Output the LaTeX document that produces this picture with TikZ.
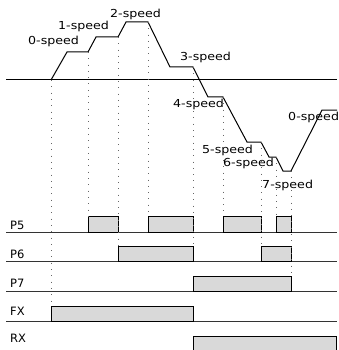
\documentclass[tikz,border=0pt]{standalone}
\usepackage{fontspec}
\setmainfont{DejaVu Sans}
\newfontfamily\spdfont[FakeStretch=1.15]{DejaVu Sans}
\usetikzlibrary{positioning}

\begin{document}
\begin{tikzpicture}[x=1pt, y=-1pt,
  spd/.style={anchor=base west, inner sep=0pt, font=\spdfont\fontsize{11}{11}\selectfont},
  sig/.style={anchor=base west, inner sep=0pt, font=\fontsize{11.5}{11.5}\selectfont},
  axisline/.style={line width=1pt},
  profile/.style={line width=1pt, line join=miter},
  baseline/.style={line width=1pt, draw=black!80},
  pulse/.style={draw, line width=1pt, fill=black!15},
  guide/.style={draw=black!60, line width=0.9pt, dash pattern=on 0.9pt off 5.4pt}
]
  \clip (0,0) rectangle (339,350);

  % speed profile corners
  \coordinate (s0) at (51,80);
  \coordinate (a0) at (67,52);   \coordinate (b0) at (88,52);
  \coordinate (a1) at (96,37);   \coordinate (b1) at (118,37);
  \coordinate (a2) at (126,22);  \coordinate (b2) at (148,22);
  \coordinate (a3) at (170,67);  \coordinate (b3) at (193,67);
  \coordinate (a4) at (208,97);  \coordinate (b4) at (223,97);
  \coordinate (a5) at (247,142); \coordinate (b5) at (261,142);
  \coordinate (a6) at (269,157); \coordinate (b6) at (276,157);
  \coordinate (a7) at (283,171); \coordinate (b7) at (291,171);
  \coordinate (a8) at (322,110); \coordinate (e8) at (337,110);

  % signal rows
  \coordinate (p5t) at (0,216); \coordinate (p5b) at (0,232);
  \coordinate (p6t) at (0,246); \coordinate (p6b) at (0,261);
  \coordinate (p7t) at (0,276); \coordinate (p7b) at (0,291);
  \coordinate (fxt) at (0,306); \coordinate (fxb) at (0,321);
  \coordinate (rxt) at (0,336); \coordinate (rxb) at (0,352);

  \draw[axisline] (6,80) -- (337,80);
  \draw[profile] (s0) -- (a0) -- (b0) -- (a1) -- (b1) -- (a2) -- (b2) -- (a3) -- (b3)
    -- (a4) -- (b4) -- (a5) -- (b5) -- (a6) -- (b6) -- (a7) -- (b7) -- (a8) -- (e8);

  \node[spd] (v0)  at (28,45)    {0-speed};
  \node[spd] (v1)  at (58,30)    {1-speed};
  \node[spd] (v2)  at (110,18)   {2-speed};
  \node[spd] (v3)  at (180,60.5) {3-speed};
  \node[spd] (v4)  at (173,107)  {4-speed};
  \node[spd] (v5)  at (202,153)  {5-speed};
  \node[spd] (v6)  at (223,166.5){6-speed};
  \node[spd] (v7)  at (262,188)  {7-speed};
  \node[spd] (v0b) at (288,121)  {0-speed};

  \draw[baseline] (6,232) -- (337,232);
  \draw[baseline] (6,261) -- (337,261);
  \draw[baseline] (6,291) -- (337,291);
  \draw[baseline] (6,321) -- (337,321);

  \node[sig] (lp5) at (10,229) {P5};
  \node[sig] (lp6) at (10,258) {P6};
  \node[sig] (lp7) at (10,287) {P7};
  \node[sig] (lfx) at (10,315) {FX};
  \node[sig] (lrx) at (10,342) {RX};

  \draw[pulse] (b0 |- p5b) rectangle (b1 |- p5t);
  \draw[pulse] (b2 |- p5b) rectangle (b3 |- p5t);
  \draw[pulse] (b4 |- p5b) rectangle (b5 |- p5t);
  \draw[pulse] (b6 |- p5b) rectangle (b7 |- p5t);
  \draw[pulse] (b1 |- p6b) rectangle (b3 |- p6t);
  \draw[pulse] (b5 |- p6b) rectangle (b7 |- p6t);
  \draw[pulse] (b3 |- p7b) rectangle (b7 |- p7t);
  \draw[pulse] (s0 |- fxb) rectangle (b3 |- fxt);
  \draw[pulse] (b3 |- rxb) rectangle (336,336);

  \draw[guide] (s0) -- (s0 |- fxt);
  \draw[guide] (b0) -- (b0 |- p5t);
  \draw[guide] (b1) -- (b1 |- p6t);
  \draw[guide] (b2) -- (b2 |- p5t);
  \draw[guide] (b3) -- (b3 |- p6t);
  \draw[guide] (b4) -- (b4 |- p5t);
  \draw[guide] (b5) -- (b5 |- p6t);
  \draw[guide] (b6) -- (b6 |- p5t);
  \draw[guide] (b7) -- (b7 |- p7t);
\end{tikzpicture}
\end{document}
